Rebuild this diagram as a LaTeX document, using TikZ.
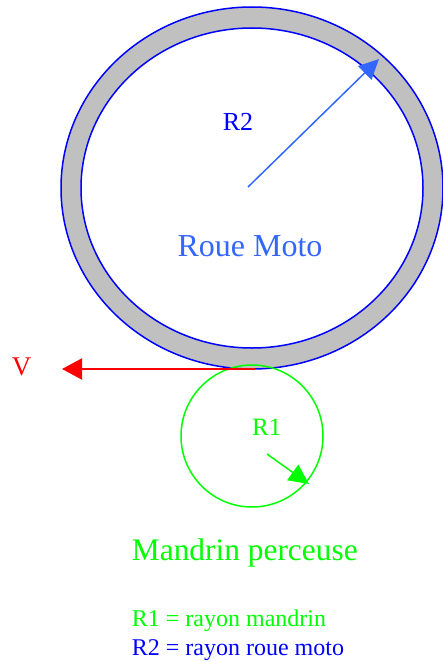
\documentclass[tikz,border=0pt]{standalone}
\usepackage{fontspec}
\setmainfont{Liberation Serif}
\usetikzlibrary{arrows.meta}
\definecolor{rred}{RGB}{255,0,0}
\definecolor{rgreen}{RGB}{0,255,0}
\definecolor{rblue}{RGB}{0,0,255}
\definecolor{lblue}{RGB}{51,102,255}
\definecolor{ring}{RGB}{192,192,192}
\tikzset{
  lbl/.style={inner sep=0pt, anchor=base},
  vec/.style={line width=1.5pt, -{Triangle[length=20pt,width=19pt]}},
}
\newcommand{\fs}[1]{\fontsize{#1}{#1}\selectfont}
\begin{document}
\begin{tikzpicture}[x=1pt,y=-1pt]
\useasboundingbox (0,0) rectangle (442,661);
% wheel
\coordinate (c2) at (252,188);
\fill[ring, even odd rule] (c2) ellipse [x radius=191, y radius=181]
                           (c2) ellipse [x radius=171, y radius=160];
\draw[rblue, line width=1.5pt] (c2) ellipse [x radius=191, y radius=181];
\draw[rblue, line width=1.5pt] (c2) ellipse [x radius=171, y radius=160];
\coordinate (r2s) at (248,187);
\coordinate (r2t) at (379,59);
\draw[vec, lblue] (r2s) -- (r2t);
\node[lbl, rblue, font=\fs{26}] (r2) at (238,130) {R2};
\node[lbl, lblue, font=\fs{32}] (roue) at (250,256.7) {Roue Moto};
% chuck
\coordinate (c1) at (252,436);
\draw[rgreen, line width=1.5pt] (c1) circle [radius=71];
\coordinate (r1s) at (267,454);
\coordinate (r1t) at (309,484);
\draw[vec, rgreen] (r1s) -- (r1t);
\node[lbl, rgreen, font=\fs{25}] (r1) at (266.7,435) {R1};
% velocity
\coordinate (vs) at (255,369);
\coordinate (vt) at (62,369);
\draw[rred, line width=2pt, -{Triangle[length=20pt,width=21pt]}] (vs) -- (vt);
\node[lbl, rred, font=\fs{27}] (v) at (21.7,375) {V};
% texts
\node[lbl, anchor=base west, rgreen, font=\fs{31.4}] (mandrin) at (131.7,560) {Mandrin perceuse};
\node[lbl, anchor=base west, rgreen, font=\fs{24}] (leg1) at (131.7,626.7) {R1 = rayon mandrin};
\node[lbl, anchor=base west, rblue, font=\fs{24}] (leg2) at (131.7,655) {R2 = rayon roue moto};
\end{tikzpicture}
\end{document}
